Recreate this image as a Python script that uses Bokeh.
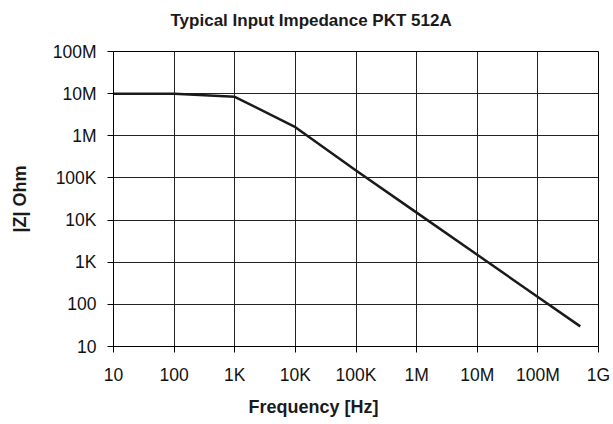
import math
from bokeh.plotting import figure
from bokeh.models import FixedTicker, Title
from bokeh.embed import file_html
from bokeh.resources import INLINE

# ---- data ----
freq_hz = [10, 100, 1e3, 1e4, 1e5, 1e6, 1e7, 1e8, 5e8]
impedance_ohm = [1e7, 1e7, 8.4e6, 1.6e6, 1.5e5, 1.5e4, 1.5e3, 150, 30]

x_ticks = [10, 100, 1e3, 1e4, 1e5, 1e6, 1e7, 1e8, 1e9]
x_tick_labels = ["10", "100", "1K", "10K", "100K", "1M", "10M", "100M", "1G"]
y_ticks = [10, 100, 1e3, 1e4, 1e5, 1e6, 1e7, 1e8]
y_tick_labels = ["10", "100", "1K", "10K", "100K", "1M", "10M", "100M"]

title_text = "Typical Input Impedance PKT 512A"
x_title = "Frequency [Hz]"
y_title = "|Z| Ohm"

FONT = "Liberation Sans"
W, H = 613, 424

p = figure(width=W, height=H, x_axis_type="log", y_axis_type="log",
           x_range=(x_ticks[0], x_ticks[-1]), y_range=(y_ticks[0], y_ticks[-1]),
           output_backend="svg", toolbar_location=None,
           min_border_left=113, min_border_right=15, min_border_top=51, min_border_bottom=78)
p.background_fill_color = "white"
p.border_fill_color = "white"
p.outline_line_color = "#000000"
p.outline_line_width = 1

p.line(freq_hz, impedance_ohm, line_color="#1a1a1a", line_width=2.5)

for ax, ticks, labels in ((p.xaxis[0], x_ticks, x_tick_labels), (p.yaxis[0], y_ticks, y_tick_labels)):
    ax.ticker = FixedTicker(ticks=ticks, minor_ticks=[])
    ax.major_label_overrides = {t: l for t, l in zip(ticks, labels)}
    ax.major_tick_out = 6
    ax.major_tick_in = 0
    ax.minor_tick_out = 0
    ax.minor_tick_in = 0
    ax.axis_line_color = "#000000"
    ax.major_tick_line_color = "#000000"
    ax.major_label_text_font = FONT
    ax.major_label_text_font_size = "17.5px"
    ax.major_label_text_color = "#111111"
    ax.axis_label_text_font = FONT
    ax.axis_label_text_font_style = "bold"
    ax.axis_label_text_font_size = "18px"
    ax.axis_label_text_color = "#1a1a1a"
p.xaxis[0].major_label_standoff = 12
p.yaxis[0].major_label_standoff = 11
p.yaxis[0].axis_label = y_title
p.yaxis[0].axis_label_standoff = 20

p.xgrid.grid_line_color = "#222222"
p.ygrid.grid_line_color = "#222222"
p.xgrid.grid_line_width = 1
p.ygrid.grid_line_width = 1

# title: trailing empty line lifts the text away from the frame, as in the reference
p.add_layout(Title(text=title_text + "\n", align="left", offset=57, standoff=6, text_font=FONT,
                   text_font_style="bold", text_font_size="17px", text_color="#1a1a1a"), "above")

p.add_layout(Title(text=x_title, align="left", offset=135, standoff=14, text_font=FONT,
                   text_font_style="bold", text_font_size="18px", text_color="#1a1a1a"), "below")

open("out.html", "w").write(file_html(p, INLINE))
